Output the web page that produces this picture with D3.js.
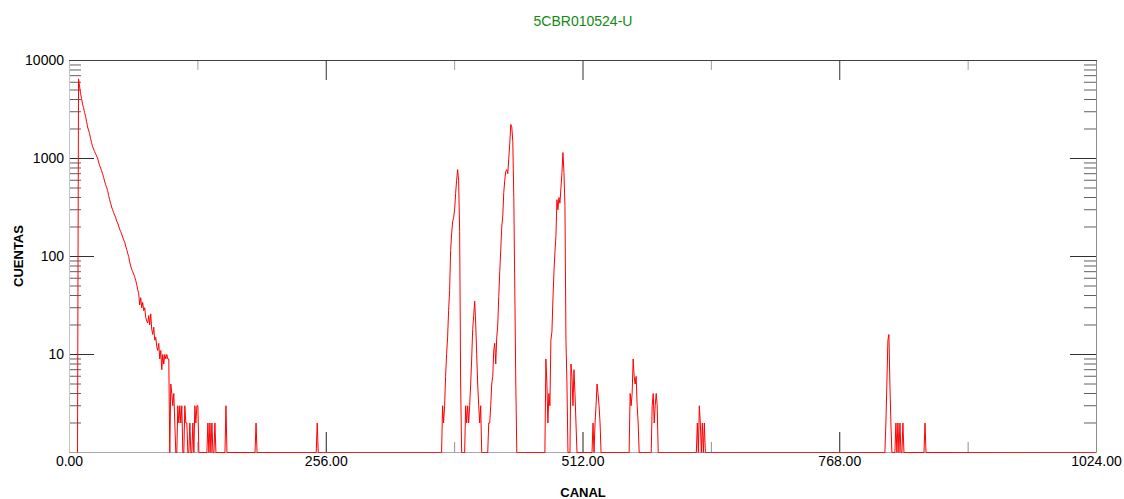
<!DOCTYPE html>
<html>
<head>
<meta charset="utf-8">
<script src="https://cdn.jsdelivr.net/npm/d3@7"></script>
<style>
  body { margin: 0; background: #fff; }
  svg { display: block; font-family: "Liberation Sans", Arial, sans-serif; }
</style>
</head>
<body>
<svg id="chart" width="1124" height="499"></svg>
<script>
var chartTitle = "5CBR010524-U",
    xLabel = "CANAL",
    yLabel = "CUENTAS";

// x ticks (channels) and y ticks (counts)
var xMajorTicks = [0, 256, 512, 768, 1024],
    xMinorTicks = [128, 384, 640, 896],
    yMajorTicks = [1, 10, 100, 1000, 10000];

// spectrum
var firstChannel = 8;
// channels 8..129
var decayCounts = [0, 6500, 5500, 4600, 4100, 3600, 3300, 2950, 2700, 2400,
    2100, 1950, 1800, 1600, 1450, 1320, 1250, 1180, 1120, 1060,
    1010, 920, 850, 800, 750, 700, 640, 590, 540, 510,
    470, 420, 380, 350, 320, 300, 280, 265, 250, 230,
    220, 205, 190, 180, 170, 158, 148, 140, 128, 118,
    108, 100, 88, 80, 74, 70, 66, 62, 57, 52,
    46, 42, 32, 38, 30, 34, 28, 30, 24, 22,
    21, 25, 20, 26, 18, 16, 19, 14, 15, 12,
    11, 13, 9, 11, 7, 10, 8, 10, 9, 10,
    9, 9,
    0, 5, 4, 3, 4, 2, 0, 0, 3, 2, 3, 2, 3, 0, 1, 3, 2, 2, 0, 1,
    2, 0, 1, 2, 1, 3, 2, 3, 3, 0];

var peakStarts = [138, 156, 186, 247, 372, 395, 417, 474, 520, 558, 580, 625, 814, 824, 853];
var peakCounts = [
    [2, 0, 2, 0, 2, 0, 0, 2],
    [3],
    [2],
    [2],
    [3, 2, 3, 6, 10, 15, 28, 45, 115, 170, 225, 250, 300, 440, 600, 770, 600, 180, 5, 0],
    [3, 2, 3, 2, 3, 5, 9, 18, 25, 35, 21, 10, 5, 3, 2, 3, 0],
    [0, 2, 2, 3, 5, 6, 11, 13, 8, 15, 20, 39, 70, 118, 200, 258, 450, 600, 740, 770,
     700, 1000, 1450, 2230, 2100, 1500, 400, 46, 5, 0],
    [0, 9, 5, 2, 4, 3, 14, 17, 36, 68, 110, 161, 380, 300, 400, 350, 500, 720, 1150, 720,
     330, 14, 5, 1, 0, 0, 8, 6, 3, 7, 4, 2, 0],
    [0, 1, 2, 1, 2, 3, 5, 4, 3, 2, 0],
    [0, 4, 3, 4, 9, 6, 5, 6, 3, 2, 1, 0],
    [1, 3, 4, 2, 3, 4, 3, 1, 0],
    [0, 2, 1, 3, 2, 1, 2, 1, 2, 0],
    [2, 5, 14, 16, 5, 2, 0],
    [2, 1, 2, 1, 2, 0, 1, 2, 0],
    [2, 1]
];

var counts = new Array(1024).fill(0);
decayCounts.forEach(function (v, i) { counts[firstChannel + i] = v; });
peakStarts.forEach(function (s, k) {
    peakCounts[k].forEach(function (v, i) { counts[s + i] = v; });
});
var spectrum = d3.range(firstChannel, 1024).map(function (ch) {
    return { ch: ch, v: counts[ch] };
});

var plotLeft = 69, plotRight = 1096, plotTop = 60, plotBottom = 452;

var x = d3.scaleLinear().domain([0, 1024]).range([plotLeft, plotRight]);
var y = d3.scaleLog().domain([1, 10000]).range([plotBottom, plotTop]).clamp(true);

var svg = d3.select("#chart");

// minor ticks (log 2..9)
var yMinor = y.ticks().filter(function (d) { return yMajorTicks.indexOf(d) < 0; });

function styleAxis(g, color) {
    g.select(".domain").remove();
    g.selectAll(".tick line").attr("stroke", color);
    g.selectAll(".tick text")
        .attr("fill", "#000")
        .style("font-size", "14px")
        .style("font-family", "'Liberation Sans', Arial, sans-serif");
}

// left
svg.append("g")
    .attr("transform", "translate(" + plotLeft + ",0)")
    .call(d3.axisLeft(y).tickValues(yMinor).tickSize(-12).tickFormat(""))
    .call(styleAxis, "#606060");
svg.append("g")
    .attr("transform", "translate(" + plotLeft + ",0)")
    .call(d3.axisLeft(y).tickValues(yMajorTicks).tickSize(-25).tickPadding(5)
        .tickFormat(function (d) { return d === 1 ? "" : d; }))
    .call(styleAxis, "#303030");

// right
svg.append("g")
    .attr("transform", "translate(" + plotRight + ",0)")
    .call(d3.axisRight(y).tickValues(yMinor).tickSize(-12).tickFormat(""))
    .call(styleAxis, "#606060");
svg.append("g")
    .attr("transform", "translate(" + plotRight + ",0)")
    .call(d3.axisRight(y).tickValues(yMajorTicks).tickSize(-26).tickFormat(""))
    .call(styleAxis, "#303030");

// bottom
svg.append("g")
    .attr("transform", "translate(0," + plotBottom + ")")
    .call(d3.axisBottom(x).tickValues(xMinorTicks).tickSize(-10).tickFormat(""))
    .call(styleAxis, "#909090");
svg.append("g")
    .attr("transform", "translate(0," + plotBottom + ")")
    .call(d3.axisBottom(x).tickValues(xMajorTicks).tickSize(-20).tickPadding(4)
        .tickFormat(d3.format(".2f")))
    .call(styleAxis, "#202020");

// top
svg.append("g")
    .attr("transform", "translate(0," + plotTop + ")")
    .call(d3.axisTop(x).tickValues(xMinorTicks).tickSize(-10).tickFormat(""))
    .call(styleAxis, "#a0a0a0");
svg.append("g")
    .attr("transform", "translate(0," + plotTop + ")")
    .call(d3.axisTop(x).tickValues(xMajorTicks).tickSize(-20).tickFormat(""))
    .call(styleAxis, "#303030");

// frame
var frame = svg.append("g").attr("stroke-width", 1);
frame.append("line").attr("x1", plotLeft + 0.5).attr("x2", plotLeft + 0.5)
    .attr("y1", plotTop).attr("y2", plotBottom + 1).attr("stroke", "#c4c4c4");
frame.append("line").attr("x1", plotRight + 0.5).attr("x2", plotRight + 0.5)
    .attr("y1", plotTop).attr("y2", plotBottom + 1).attr("stroke", "#8c8c8c");
frame.append("line").attr("x1", plotLeft).attr("x2", plotRight + 1)
    .attr("y1", plotBottom + 0.5).attr("y2", plotBottom + 0.5).attr("stroke", "#a8a8a8");
frame.append("line").attr("x1", plotLeft).attr("x2", plotRight + 1)
    .attr("y1", plotTop + 0.5).attr("y2", plotTop + 0.5).attr("stroke", "#404040");

// spectrum line
var line = d3.line()
    .x(function (d) { return x(d.ch); })
    .y(function (d) { return y(Math.max(1, d.v)); });

svg.append("path")
    .datum(spectrum)
    .attr("transform", "translate(0.5,0.5)")
    .attr("d", line)
    .attr("fill", "none")
    .attr("stroke", "#ff0000")
    .attr("stroke-width", 1);

// texts
svg.append("text")
    .attr("x", (plotLeft + plotRight) / 2 + 0.5)
    .attr("y", 26)
    .attr("text-anchor", "middle")
    .attr("fill", "#108a10")
    .style("font-size", "14px")
    .text(chartTitle);

svg.append("text")
    .attr("x", (plotLeft + plotRight) / 2 + 0.5)
    .attr("y", 497)
    .attr("text-anchor", "middle")
    .style("font-size", "13px")
    .style("font-weight", "bold")
    .text(xLabel);

svg.append("text")
    .attr("transform", "translate(23,256) rotate(-90)")
    .attr("text-anchor", "middle")
    .style("font-size", "13px")
    .style("font-weight", "bold")
    .text(yLabel);
</script>
</body>
</html>
